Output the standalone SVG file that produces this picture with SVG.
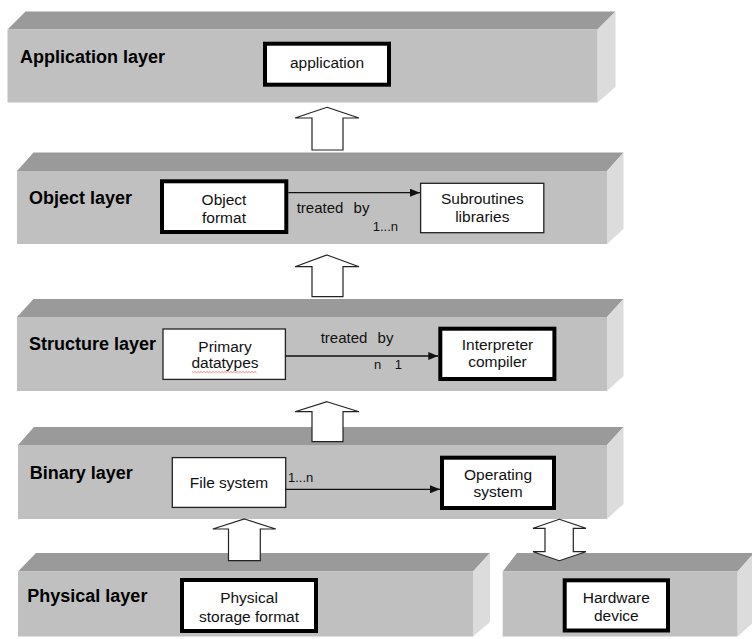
<svg xmlns="http://www.w3.org/2000/svg" width="752" height="639" viewBox="0 0 752 639">
<defs>
<style>
.top{fill:#9a9a9a}
.front{fill:#c0c0c0}
.side{fill:#dcdcdc}
.lbl{font-family:"Liberation Sans",Arial,sans-serif;font-weight:bold;font-size:18px;fill:#000}
.txt{font-family:"Liberation Sans",Arial,sans-serif;font-size:15.5px;fill:#111;text-anchor:middle}
.ed{font-family:"Liberation Sans",Arial,sans-serif;font-size:15px;fill:#111;word-spacing:6px}
.sm{font-family:"Liberation Sans",Arial,sans-serif;font-size:13px;fill:#111}
.thick{fill:#fff;stroke:#000;stroke-width:4}
.thin{fill:#fff;stroke:#222;stroke-width:1.3}
.blk{fill:#fff;stroke:#222;stroke-width:1.2;stroke-linejoin:miter}
.con{fill:none;stroke:#111;stroke-width:1.3}
</style>
<marker id="ah" markerWidth="10" markerHeight="8" refX="10" refY="4" orient="auto" markerUnits="userSpaceOnUse">
<path d="M0,0 L10,4 L0,8 Z" fill="#111"/>
</marker>
</defs>

<g id="layer-application">
<polygon class="top" points="7.5,29.5 25.5,11.5 615.5,11.5 597.5,29.5"/>
<polygon class="side" points="597.5,29.5 615.5,11.5 615.5,87 597.5,102.5"/>
<rect class="front" x="7.5" y="29.5" width="590" height="73"/>
<text class="lbl" x="20" y="63.3">Application layer</text>
</g>

<g id="layer-object">
<polygon class="top" points="17,171 33.5,152.5 623.5,152.5 607,171"/>
<polygon class="side" points="607,171 623.5,152.5 623.5,229 607,244"/>
<rect class="front" x="17" y="171" width="590" height="73"/>
<text class="lbl" x="29" y="204.3">Object layer</text>
</g>

<g id="layer-structure">
<polygon class="top" points="17,317 33.5,299 623.5,299 607,317"/>
<polygon class="side" points="607,317 623.5,299 623.5,376 607,391"/>
<rect class="front" x="17" y="317" width="590" height="74"/>
<text class="lbl" x="29" y="350">Structure layer</text>
</g>

<g id="layer-binary">
<polygon class="top" points="18,445 34,427 623.5,427 607,445"/>
<polygon class="side" points="607,445 623.5,427 623.5,504 607,519"/>
<rect class="front" x="18" y="445" width="589" height="74"/>
<text class="lbl" x="29.7" y="479.3">Binary layer</text>
</g>

<g id="layer-physical">
<polygon class="top" points="18,571.5 36,553 490,553 473,571.5"/>
<polygon class="side" points="473,571.5 490,553 490,622 473,636.5"/>
<rect class="front" x="18" y="571.5" width="455" height="65"/>
<text class="lbl" x="27.3" y="601.7">Physical layer</text>
</g>

<g id="layer-hardware">
<polygon class="top" points="502.7,571.5 517,553 754,553 737.5,571.5"/>
<polygon class="side" points="737.5,571.5 754,553 754,622 737.5,636.5"/>
<rect class="front" x="502.7" y="571.5" width="234.8" height="65"/>
</g>

<g id="node-application">
<rect class="thick" x="265" y="43.7" width="124" height="41"/>
<text class="txt" x="327" y="68">application</text>
</g>

<g id="node-object-format">
<rect class="thick" x="162" y="181.3" width="124.3" height="50.7"/>
<text class="txt" x="224" y="205">Object</text>
<text class="txt" x="224" y="222.7">format</text>
</g>

<g id="node-subroutines">
<rect class="thin" x="420.6" y="183.3" width="123.2" height="49.4"/>
<text class="txt" x="482.3" y="204">Subroutines</text>
<text class="txt" x="482.3" y="222">libraries</text>
</g>

<g id="node-primary-datatypes">
<rect class="thin" x="163" y="329" width="122.4" height="50.4"/>
<text class="txt" x="225" y="351.7">Primary</text>
<text class="txt" x="225" y="368.3">datatypes</text>
<path d="M192,371.5 l1.5,1.2 l1.5,-1.2 l1.5,1.2 l1.5,-1.2 l1.5,1.2 l1.5,-1.2 l1.5,1.2 l1.5,-1.2 l1.5,1.2 l1.5,-1.2 l1.5,1.2 l1.5,-1.2 l1.5,1.2 l1.5,-1.2 l1.5,1.2 l1.5,-1.2 l1.5,1.2 l1.5,-1.2 l1.5,1.2 l1.5,-1.2 l1.5,1.2 l1.5,-1.2 l1.5,1.2 l1.5,-1.2 l1.5,1.2 l1.5,-1.2 l1.5,1.2 l1.5,-1.2 l1.5,1.2 l1.5,-1.2 l1.5,1.2 l1.5,-1.2 l1.5,1.2 l1.5,-1.2 l1.5,1.2 l1.5,-1.2 l1.5,1.2 l1.5,-1.2 l1.5,1.2 l1.5,-1.2 l1.5,1.2 l1.5,-1.2 l1.5,1.2" fill="none" stroke="#e05050" stroke-width="0.7"/>
</g>

<g id="node-interpreter">
<rect class="thick" x="440.3" y="328.7" width="114.1" height="50.3"/>
<text class="txt" x="497.5" y="350">Interpreter</text>
<text class="txt" x="497.5" y="367">compiler</text>
</g>

<g id="node-file-system">
<rect class="thin" x="172.3" y="457.6" width="113.4" height="49.8"/>
<text class="txt" x="229" y="488">File system</text>
</g>

<g id="node-operating-system">
<rect class="thick" x="442" y="457.7" width="112" height="50.3"/>
<text class="txt" x="498" y="480">Operating</text>
<text class="txt" x="498" y="497">system</text>
</g>

<g id="node-physical-storage">
<rect class="thick" x="182" y="580" width="134" height="51"/>
<text class="txt" x="249" y="603.3">Physical</text>
<text class="txt" x="249" y="621.7">storage format</text>
</g>

<g id="node-hardware">
<rect class="thick" x="564.7" y="580.3" width="103.3" height="50.2"/>
<text class="txt" x="616.3" y="603.3">Hardware</text>
<text class="txt" x="616.3" y="621">device</text>
</g>

<g id="connectors">
<polygon class="blk" points="327,107.3 359,118 343,118 343,150 312,150 312,118 295,118"/>
<polygon class="blk" points="327,255 359,266.7 343,266.7 343,296.7 312,296.7 312,266.7 295,266.7"/>
<polygon class="blk" points="327,401.7 359,411.7 343,411.7 343,441.7 312,441.7 312,411.7 295,411.7"/>
<polygon class="blk" points="244.4,519 275.8,529 260.3,529 260.3,560.7 228.5,560.7 228.5,529 212.8,529"/>
<polygon class="blk" points="559.3,519.3 586,528.3 573.3,528.3 573.3,551.7 586,551.7 559.3,560.7 533,551.7 545,551.7 545,528.3 533,528.3"/>

<line class="con" x1="288.3" y1="192.7" x2="420" y2="192.7" marker-end="url(#ah)"/>
<text class="ed" x="296.7" y="212.7">treated by</text>
<text class="sm" x="372.7" y="231">1...n</text>

<line class="con" x1="285.4" y1="356" x2="438.3" y2="356" marker-end="url(#ah)"/>
<text class="ed" x="320.7" y="343.3">treated by</text>
<text class="sm" x="374" y="369" style="word-spacing:10px">n 1</text>

<line class="con" x1="285.7" y1="489.3" x2="440" y2="489.3" marker-end="url(#ah)"/>
<text class="sm" x="288" y="481.7">1...n</text>
</g>
</svg>
